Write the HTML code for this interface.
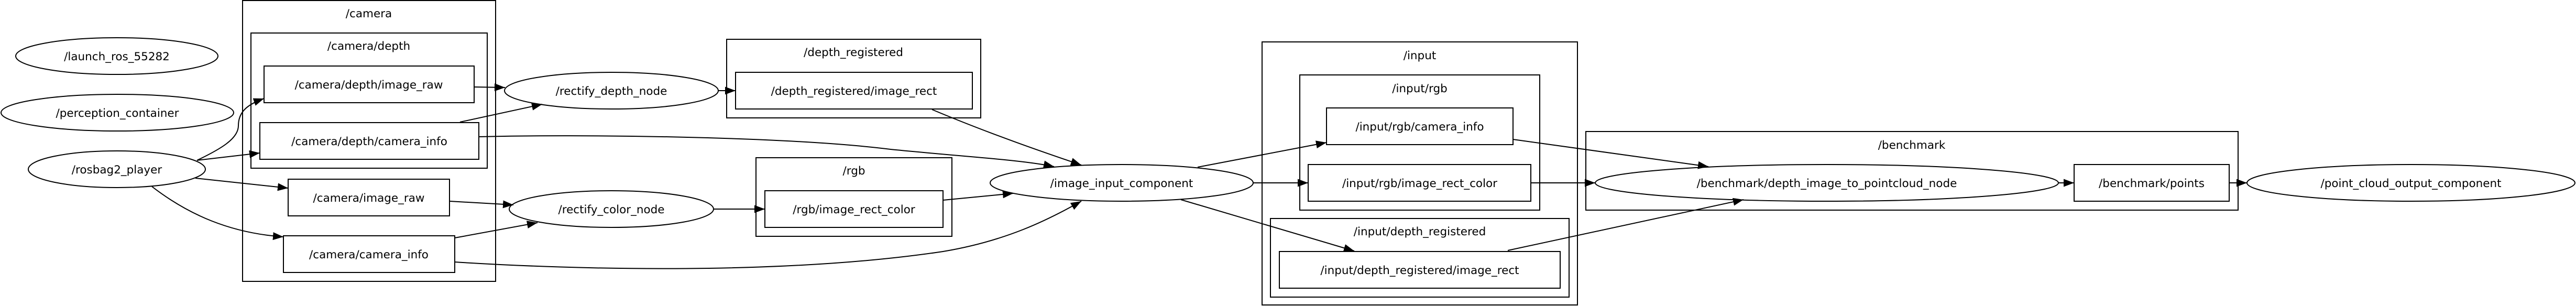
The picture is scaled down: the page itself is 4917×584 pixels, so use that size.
<!DOCTYPE html>
<html><head><meta charset="utf-8"><style>
html,body{margin:0;padding:0;background:#fff;}
svg{display:block;}
text{font-family:"DejaVu Sans","Liberation Sans",sans-serif;font-size:21.5px;text-anchor:middle;fill:#000;}
.s{fill:none;stroke:#000;stroke-width:2;}
.e{fill:none;stroke:#000;stroke-width:2;}
</style></head><body>
<svg width="4917" height="584" viewBox="0 0 4917 584" xmlns="http://www.w3.org/2000/svg">
<defs>
<marker id="a" markerUnits="userSpaceOnUse" markerWidth="22" markerHeight="16" refX="20" refY="7.5" orient="auto">
<path d="M0,0 L20,7.5 L0,15 Z" fill="#000"/>
</marker>
</defs>

<!-- clusters -->
<rect class="s" x="463" y="1" width="483" height="536"/>
<text x="704" y="33">/camera</text>
<rect class="s" x="479" y="63" width="451" height="258"/>
<text x="704" y="95">/camera/depth</text>
<rect class="s" x="1387" y="75" width="485" height="150"/>
<text x="1629" y="107">/depth_registered</text>
<rect class="s" x="1443" y="301" width="374" height="150"/>
<text x="1630" y="333">/rgb</text>
<rect class="s" x="2409" y="80" width="602" height="502"/>
<text x="2710" y="113">/input</text>
<rect class="s" x="2481" y="143" width="458" height="258"/>
<text x="2710" y="176">/input/rgb</text>
<rect class="s" x="2425" y="417" width="570" height="150"/>
<text x="2710" y="449">/input/depth_registered</text>
<rect class="s" x="3027" y="251" width="1245" height="150"/>
<text x="3649" y="284">/benchmark</text>

<!-- ellipses -->
<ellipse class="e" cx="223" cy="107" rx="193" ry="35"/><text x="223" y="115">/launch_ros_55282</text>
<ellipse class="e" cx="224" cy="215" rx="222" ry="35"/><text x="224" y="223">/perception_container</text>
<ellipse class="e" cx="223" cy="323" rx="169" ry="35"/><text x="223" y="331">/rosbag2_player</text>
<ellipse class="e" cx="1167" cy="173" rx="204" ry="35"/><text x="1167" y="181">/rectify_depth_node</text>
<ellipse class="e" cx="1167" cy="399" rx="195" ry="35"/><text x="1167" y="407">/rectify_color_node</text>
<ellipse class="e" cx="2141" cy="349" rx="251" ry="35"/><text x="2141" y="357">/image_input_component</text>
<ellipse class="e" cx="3487" cy="349" rx="442" ry="35"/><text x="3487" y="357">/benchmark/depth_image_to_pointcloud_node</text>
<ellipse class="e" cx="4602" cy="349" rx="313" ry="35"/><text x="4602" y="357">/point_cloud_output_component</text>

<!-- boxes -->
<rect class="s" x="504" y="126" width="401" height="70"/><text x="704" y="169">/camera/depth/image_raw</text>
<rect class="s" x="496" y="234" width="418" height="70"/><text x="705" y="277">/camera/depth/camera_info</text>
<rect class="s" x="550" y="342" width="308" height="70"/><text x="704" y="385">/camera/image_raw</text>
<rect class="s" x="541" y="450" width="327" height="70"/><text x="704" y="493">/camera/camera_info</text>
<rect class="s" x="1404" y="138" width="452" height="70"/><text x="1630" y="181">/depth_registered/image_rect</text>
<rect class="s" x="1460" y="364" width="340" height="70"/><text x="1630" y="407">/rgb/image_rect_color</text>
<rect class="s" x="2532" y="206" width="356" height="70"/><text x="2710" y="249">/input/rgb/camera_info</text>
<rect class="s" x="2497" y="314" width="425" height="70"/><text x="2710" y="357">/input/rgb/image_rect_color</text>
<rect class="s" x="2442" y="480" width="536" height="70"/><text x="2710" y="523">/input/depth_registered/image_rect</text>
<rect class="s" x="3959" y="314" width="296" height="70"/><text x="4107" y="357">/benchmark/points</text>

<!-- edges -->
<g class="s" marker-end="url(#a)">
<path d="M376,306 C420,285 455,265 455,240 C455,215 470,200 504,188"/>
<path d="M376,306 L496,292"/>
<path d="M373,340 L550,359"/>
<path d="M290,356 C360,410 440,445 541,452"/>
<path d="M905,166 L964,167"/>
<path d="M878,233 L1035,199"/>
<path d="M914,261 C1100,256 1500,260 1700,285 C1850,300 1950,305 2012,318"/>
<path d="M858,384 L980,391"/>
<path d="M868,454 L1026,425"/>
<path d="M868,500 C1100,515 1500,525 1800,480 C1920,460 2000,420 2064,384"/>
<path d="M1370,173 L1404,173"/>
<path d="M1779,209 C1900,260 2020,300 2064,315"/>
<path d="M1362,399 L1460,399"/>
<path d="M1800,382 L1934,369"/>
<path d="M2286,319 L2532,272"/>
<path d="M2392,349 L2497,349"/>
<path d="M2254,381 L2585,479"/>
<path d="M2888,266 L3261,318"/>
<path d="M2922,349 L3045,349"/>
<path d="M2878,478 L3328,381"/>
<path d="M3929,349 L3959,349"/>
<path d="M4255,349 L4289,349"/>
</g>
</svg>
</body></html>
